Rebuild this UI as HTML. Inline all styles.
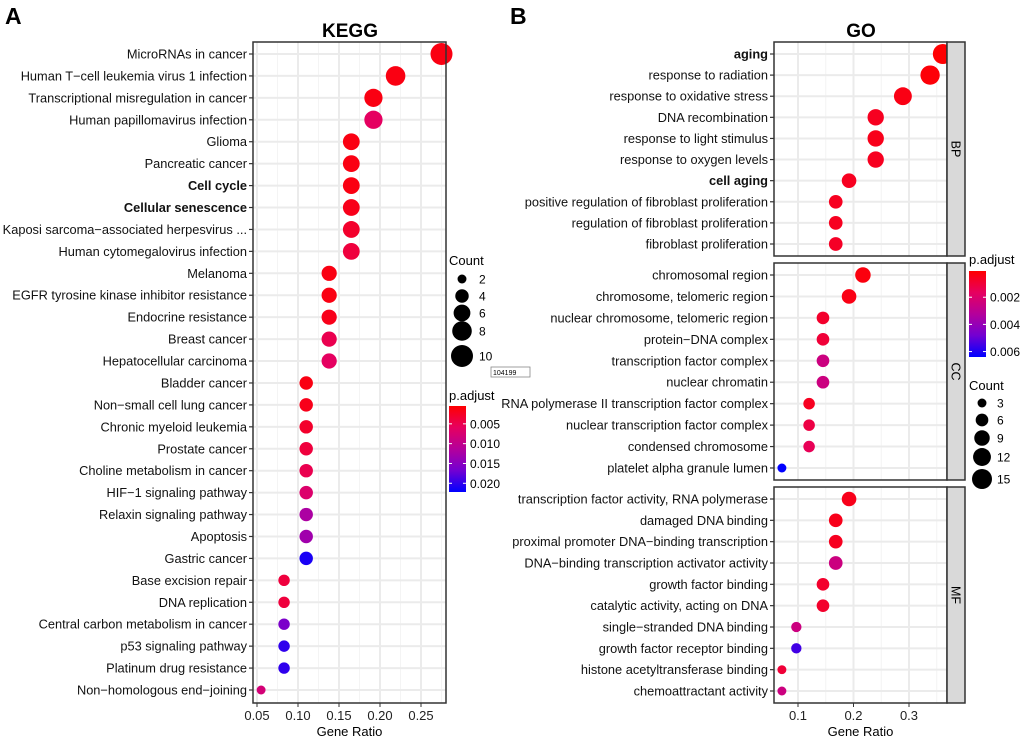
<!DOCTYPE html>
<html><head><meta charset="utf-8"><style>
body{margin:0;background:#fff;}
svg{display:block;font-family:"Liberation Sans",Arial,sans-serif;}
</style></head><body>
<svg id="fig" width="1020" height="741" viewBox="0 0 1020 741" xmlns="http://www.w3.org/2000/svg">
<text x="5" y="24" font-size="23" font-weight="bold">A</text>
<text x="510" y="24" font-size="23" font-weight="bold">B</text>
<text x="350" y="37" font-size="19" font-weight="bold" text-anchor="middle">KEGG</text>
<text x="861" y="37" font-size="19" font-weight="bold" text-anchor="middle">GO</text>
<rect x="491" y="367" width="39" height="10" fill="#fff" stroke="#888" stroke-width="0.8"/>
<text x="493" y="375" font-size="7">104199</text>
</svg>
<script>
const keggTerms=["MicroRNAs in cancer","Human T\u2212cell leukemia virus 1 infection","Transcriptional misregulation in cancer","Human papillomavirus infection","Glioma","Pancreatic cancer","Cell cycle","Cellular senescence","Kaposi sarcoma\u2212associated herpesvirus ...","Human cytomegalovirus infection","Melanoma","EGFR tyrosine kinase inhibitor resistance","Endocrine resistance","Breast cancer","Hepatocellular carcinoma","Bladder cancer","Non\u2212small cell lung cancer","Chronic myeloid leukemia","Prostate cancer","Choline metabolism in cancer","HIF\u22121 signaling pathway","Relaxin signaling pathway","Apoptosis","Gastric cancer","Base excision repair","DNA replication","Central carbon metabolism in cancer","p53 signaling pathway","Platinum drug resistance","Non\u2212homologous end\u2212joining"];
const keggBold=["Cell cycle","Cellular senescence"];
const keggRatio=[0.275,0.219,0.192,0.192,0.165,0.165,0.165,0.165,0.165,0.165,0.138,0.138,0.138,0.138,0.138,0.11,0.11,0.11,0.11,0.11,0.11,0.11,0.11,0.11,0.083,0.083,0.083,0.083,0.083,0.055];
const keggCount=[10,8,7,7,6,6,6,6,6,6,5,5,5,5,5,4,4,4,4,4,4,4,4,4,3,3,3,3,3,2];
const keggP=[0.0015,0.0015,0.0015,0.006,0.0015,0.0015,0.0015,0.002,0.003,0.004,0.0015,0.0015,0.002,0.005,0.006,0.0015,0.002,0.003,0.004,0.005,0.007,0.012,0.013,0.021,0.004,0.004,0.016,0.020,0.020,0.008];
const keggXTicks=[0.05,0.10,0.15,0.20,0.25];
const keggCountLegend=[2,4,6,8,10];
const keggPTicks=[0.005,0.010,0.015,0.020];

const goFacets=["BP","CC","MF"];
const goTerms=[
["aging","response to radiation","response to oxidative stress","DNA recombination","response to light stimulus","response to oxygen levels","cell aging","positive regulation of fibroblast proliferation","regulation of fibroblast proliferation","fibroblast proliferation"],
["chromosomal region","chromosome, telomeric region","nuclear chromosome, telomeric region","protein\u2212DNA complex","transcription factor complex","nuclear chromatin","RNA polymerase II transcription factor complex","nuclear transcription factor complex","condensed chromosome","platelet alpha granule lumen"],
["transcription factor activity, RNA polymerase","damaged DNA binding","proximal promoter DNA\u2212binding transcription","DNA\u2212binding transcription activator activity","growth factor binding","catalytic activity, acting on DNA","single\u2212stranded DNA binding","growth factor receptor binding","histone acetyltransferase binding","chemoattractant activity"]];
const goBold=["aging","cell aging"];
const goRatio=[[0.361,0.338,0.289,0.24,0.24,0.24,0.192,0.168,0.168,0.168],[0.217,0.192,0.145,0.145,0.145,0.145,0.12,0.12,0.12,0.071],[0.192,0.168,0.168,0.168,0.145,0.145,0.097,0.097,0.071,0.071]];
const goCount=[[15,14,12,10,10,10,8,7,7,7],[9,8,6,6,6,6,5,5,5,3],[8,7,7,7,6,6,4,4,3,3]];
const goP=[[0.0001,0.0002,0.0004,0.0006,0.0005,0.0006,0.0006,0.0006,0.0006,0.0007],[0.0003,0.0004,0.0008,0.001,0.0025,0.0025,0.0006,0.0012,0.0015,0.0064],[0.0005,0.0005,0.0006,0.0025,0.0008,0.0008,0.0025,0.0055,0.001,0.0025]];
const goXTicks=[0.1,0.2,0.3];
const goCountLegend=[3,6,9,12,15];
const goPTicks=[0.002,0.004,0.006];

const NS="http://www.w3.org/2000/svg";
const svg=document.getElementById('fig');
function mk(tag,attrs,parent){const e=document.createElementNS(NS,tag);for(const k in attrs)e.setAttribute(k,attrs[k]);(parent||svg).appendChild(e);return e;}
const stops=[[255,0,0],[230,0,95],[180,0,155],[115,0,210],[0,0,255]];
function colorAt(t){t=Math.max(0,Math.min(1,t));const s=t*4,i=Math.min(3,Math.floor(s)),f=s-i;const a=stops[i],b=stops[i+1];return 'rgb('+a.map((v,k)=>Math.round(v+(b[k]-v)*f)).join(',')+')';}
const FS=12.8;

// KEGG
const kx=v=>257+(v-0.05)*820;
const kL=253,kR=446,kT=42,kB=703;
const ky=i=>54+i*(690-54)/29;
const kPmin=0.0005,kPmax=0.0222;
const kR2=c=>Math.sqrt(20+(c-2)*(121-20)/8);
mk('rect',{x:kL,y:kT,width:kR-kL,height:kB-kT,fill:'#fff'});
for(let i=0;i<keggXTicks.length;i++){const v=keggXTicks[i];
 const g=mk('line',{x1:kx(v),x2:kx(v),y1:kT,y2:kB,stroke:'#EBEBEB','stroke-width':2});
 
 if(i<keggXTicks.length-1){mk('line',{x1:kx(v+0.025),x2:kx(v+0.025),y1:kT,y2:kB,stroke:'#F4F4F4','stroke-width':1});}
 mk('line',{x1:kx(v),x2:kx(v),y1:kB,y2:kB+4,stroke:'#333','stroke-width':1});
 const t=mk('text',{x:kx(v),y:kB+17,'font-size':13,'text-anchor':'middle',fill:'#222'});t.textContent=v.toFixed(2);
 }
mk('line',{x1:kx(0.275),x2:kx(0.275),y1:kT,y2:kB,stroke:'#F4F4F4','stroke-width':1});
keggTerms.forEach((name,i)=>{const y=ky(i);
 mk('line',{x1:kL,x2:kR,y1:y,y2:y,stroke:'#EBEBEB','stroke-width':2});
 mk('line',{x1:kL-4,x2:kL,y1:y,y2:y,stroke:'#333','stroke-width':1.2});
 const t=mk('text',{x:kL-6,y:y+4.5,'font-size':FS,'text-anchor':'end',fill:'#111','font-weight':keggBold.includes(name)?'bold':'normal'});t.textContent=name;
 });
keggTerms.forEach((name,i)=>{
 const c=mk('circle',{cx:kx(keggRatio[i]),cy:ky(i),r:kR2(keggCount[i]),fill:colorAt((keggP[i]-kPmin)/(kPmax-kPmin))});
 });
mk('rect',{x:kL,y:kT,width:kR-kL,height:kB-kT,fill:'none',stroke:'#333','stroke-width':1.5});
let t=mk('text',{x:kL+(kR-kL)/2,y:kB+33,'font-size':13,'text-anchor':'middle'});t.textContent='Gene Ratio';

t=mk('text',{x:449,y:265,'font-size':13});t.textContent='Count';

const kLegY=[279,296,313,331,356];
keggCountLegend.forEach((c,i)=>{const e=mk('circle',{cx:462,cy:kLegY[i],r:kR2(c),fill:'#000'});
 
 const l=mk('text',{x:479,y:kLegY[i]+4.5,'font-size':12});l.textContent=c;
 });
t=mk('text',{x:449,y:400,'font-size':13});t.textContent='p.adjust';

function colorbar(x,y0,y1,pmin,pmax,ticks,id,fmt){
 const gr=mk('linearGradient',{id:id,x1:0,y1:0,x2:0,y2:1},mk('defs',{}));
 for(let k=0;k<=8;k++){mk('stop',{offset:k/8,'stop-color':colorAt(k/8)},gr);}
 const r=mk('rect',{x:x,y:y0,width:17,height:y1-y0,fill:'url(#'+id+')'});
 
 ticks.forEach(v=>{const y=y0+(v-pmin)/(pmax-pmin)*(y1-y0);
  mk('line',{x1:x,x2:x+3,y1:y,y2:y,stroke:'#fff'});mk('line',{x1:x+14,x2:x+17,y1:y,y2:y,stroke:'#fff'});
  const l=mk('text',{x:x+21,y:y+4.5,'font-size':12});l.textContent=v.toFixed(fmt);
  });}
colorbar(449,406,492,kPmin,kPmax,keggPTicks,'kg',3);

// GO
const gx=v=>798+(v-0.1)*555;
const gL=774,gR=947,sR=965;
const facetTop=[42,263,487],facetBot=[256,480,703];
const gPmin=0.00007,gPmax=0.0064;
const gR2=c=>Math.sqrt(20+(c-3)*(100-20)/12);
goFacets.forEach((f,fi)=>{
 const T=facetTop[fi],B=facetBot[fi];const rowY=i=>T+12+i*(B-T-24)/9;
 mk('rect',{x:gL,y:T,width:gR-gL,height:B-T,fill:'#fff'});
 [0.05,0.1,0.15,0.2,0.25,0.3,0.35].forEach((v,k)=>{if(gx(v)>gL)mk('line',{x1:gx(v),x2:gx(v),y1:T,y2:B,stroke:k%2?'#EBEBEB':'#F4F4F4','stroke-width':k%2?2:1});});
 goTerms[fi].forEach((name,i)=>{const y=rowY(i);
  mk('line',{x1:gL,x2:gR,y1:y,y2:y,stroke:'#EBEBEB','stroke-width':2});
  mk('line',{x1:gL-4,x2:gL,y1:y,y2:y,stroke:'#333','stroke-width':1.2});
  const l=mk('text',{x:gL-6,y:y+4.5,'font-size':FS,'text-anchor':'end',fill:'#111','font-weight':goBold.includes(name)?'bold':'normal'});l.textContent=name;
  });
 goTerms[fi].forEach((name,i)=>{
  const c=mk('circle',{cx:gx(goRatio[fi][i]),cy:rowY(i),r:gR2(goCount[fi][i]),fill:colorAt((goP[fi][i]-gPmin)/(gPmax-gPmin))});
  });
 mk('rect',{x:gL,y:T,width:gR-gL,height:B-T,fill:'none',stroke:'#333','stroke-width':1.5});
 const s=mk('rect',{x:gR,y:T,width:sR-gR,height:B-T,fill:'#D9D9D9',stroke:'#333','stroke-width':1.5});
 
 const cy=(T+B)/2;const l=mk('text',{x:956,y:cy,'font-size':12.5,'text-anchor':'middle',transform:'rotate(90 956 '+cy+')',dy:4.5});l.textContent=f;
 
});
goXTicks.forEach(v=>{mk('line',{x1:gx(v),x2:gx(v),y1:703,y2:707,stroke:'#333'});
 const l=mk('text',{x:gx(v),y:720,'font-size':13,'text-anchor':'middle',fill:'#222'});l.textContent=v.toFixed(1);
 });
t=mk('text',{x:(gL+gR)/2,y:736,'font-size':13,'text-anchor':'middle'});t.textContent='Gene Ratio';

t=mk('text',{x:969,y:264,'font-size':13});t.textContent='p.adjust';

colorbar(969,271,357,gPmin,gPmax,goPTicks,'gg',3);
t=mk('text',{x:969,y:390,'font-size':13});t.textContent='Count';

const gLegY=[403,420,438,457,479];
goCountLegend.forEach((c,i)=>{const e=mk('circle',{cx:982,cy:gLegY[i],r:gR2(c),fill:'#000'});
 
 const l=mk('text',{x:997,y:gLegY[i]+4.5,'font-size':12});l.textContent=c;
 });
</script>
</body></html>
